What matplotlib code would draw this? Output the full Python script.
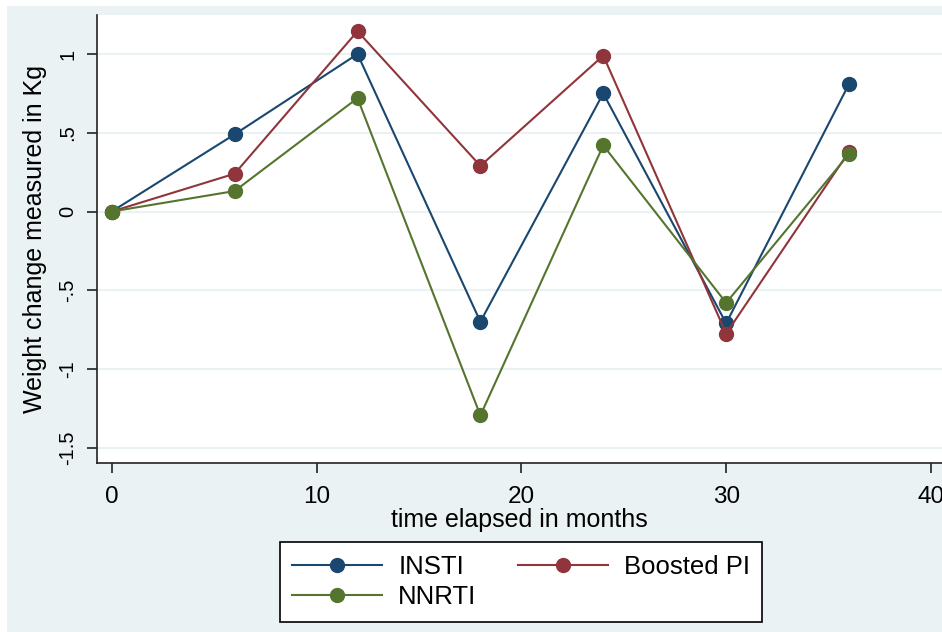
import matplotlib
matplotlib.use("Agg")
import matplotlib.pyplot as plt
from matplotlib.patches import Rectangle

# months since start and weight change (kg) per regimen
months = [0, 6, 12, 18, 24, 30, 36]
insti = [0, 0.49, 1.0, -0.70, 0.75, -0.71, 0.81]
boosted_pi = [0, 0.24, 1.145, 0.29, 0.99, -0.775, 0.38]
nnrti = [0, 0.13, 0.72, -1.295, 0.42, -0.58, 0.365]

yticks = [-1.5, -1, -0.5, 0, 0.5, 1]
ytick_labels = ["-1.5", "-1", "-.5", "0", ".5", "1"]
xticks = [0, 10, 20, 30, 40]

navy = "#1a476f"
maroon = "#90353b"
green = "#55752f"
bg = "#eaf2f3"
font = ["Liberation Sans", "DejaVu Sans"]

fig = plt.figure(figsize=(9.42, 6.32), dpi=100)
fig.patches.append(Rectangle((7 / 942, 0), 1, 1 - 6 / 632, transform=fig.transFigure,
                             facecolor=bg, edgecolor="none", zorder=-10))

ax = fig.add_axes([97 / 942, 1 - 462.5 / 632, 1 - 97 / 942, (462.5 - 15) / 632])
ax.set_facecolor("white")

style = dict(marker="o", markersize=10, linewidth=1.5)
l1, = ax.plot(months, insti, color=navy, label="INSTI", **style)
l2, = ax.plot(months, boosted_pi, color=maroon, label="Boosted PI", **style)
l3, = ax.plot(months, nnrti, color=green, label="NNRTI", **style)

ax.set_xlim(-0.72, 40.54)
ax.set_ylim(-1.594, 1.248)
ax.set_yticks(yticks)
ax.set_yticklabels(ytick_labels, rotation=90, va="center", fontsize=14.5, family=font)
ax.set_xticks(xticks)
ax.set_xticklabels([str(t) for t in xticks], fontsize=17.5, family=font)

for y in yticks:
    ax.axhline(y, color=bg, linewidth=1.5, zorder=0)

for s in ["top", "right"]:
    ax.spines[s].set_visible(False)
for s in ["left", "bottom"]:
    ax.spines[s].set_color("#222222")
    ax.spines[s].set_linewidth(1.2)
ax.tick_params(length=7, width=1.2, color="#222222")
ax.tick_params(axis="y", pad=7)
ax.tick_params(axis="x", pad=10)

ax.set_ylabel("Weight change measured in Kg", fontsize=18, family=font, labelpad=8)
ax.set_xlabel("time elapsed in months", fontsize=18, family=font, labelpad=0)

# Stata fills the legend row by row
leg = fig.legend([l1, l3, l2], ["INSTI", "NNRTI", "Boosted PI"],
                 loc="center", bbox_to_anchor=(521 / 942, 1 - 582 / 632), ncol=2,
                 prop={"family": font, "size": 18.5}, frameon=True, fancybox=False,
                 edgecolor="black", framealpha=1, handlelength=3.5, columnspacing=1.6,
                 borderpad=0.5, labelspacing=0.25, handletextpad=0.62)
leg.get_frame().set_linewidth(1.2)

fig.savefig("out.png", dpi=100)
